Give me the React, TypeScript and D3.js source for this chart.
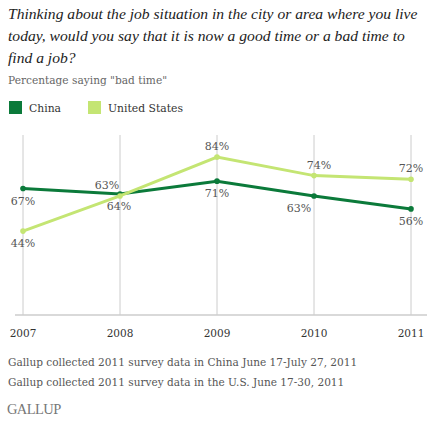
import * as React from 'react'
import * as d3 from 'd3'

// survey years and "bad time" percentages
const years = ['2007', '2008', '2009', '2010', '2011']
const china = [67, 64, 71, 63, 56]
const unitedStates = [44, 63, 84, 74, 72]

const titleLines = [
    'Thinking about the job situation in the city or area where you live',
    'today, would you say that it is now a good time or a bad time to',
    'find a job?',
]
const subtitle = 'Percentage saying "bad time"'
const notes = [
    'Gallup collected 2011 survey data in China June 17-July 27, 2011',
    'Gallup collected 2011 survey data in the U.S. June 17-30, 2011',
]

// label placement: 1 = above the point, -1 = below; dx nudges sideways
const chinaLabelPos = [[-1, 0], [-1, -1], [-1, 0], [-1, -15], [-1, 0]]
const usLabelPos = [[-1, 0], [1, -13], [1, 0], [1, 5], [1, 0]]

const W = 434
const H = 424
const serif = '"DejaVu Serif", "Liberation Serif", serif'
const titleFont = '"Liberation Serif", "DejaVu Serif", serif'
const dark = '#0b7a3a'
const light = '#c4e573'

const App = () => {
    const x = d3.scalePoint().domain(years).range([23, 411])
    const y = d3.scaleLinear().domain([0, 100]).range([312.5, 127.5])

    const line = d3.line<number>()
        .x((d, i) => x(years[i]))
        .y(d => y(d))

    const series = [
        {name: 'China', values: china, color: dark, pos: chinaLabelPos},
        {name: 'United States', values: unitedStates, color: light, pos: usLabelPos},
    ]

    return (
        <svg width={W} height={H} style={{position: 'absolute', left: 0, top: 0, background: '#fff'}}>
            {titleLines.map((t, i) => (
                <text key={i} x={8} y={19 + i * 22} fontFamily={titleFont} fontStyle='italic'
                      fontSize={15.6} fill='#222'>{t}</text>
            ))}
            <text x={8} y={84} fontFamily={serif} fontSize={10.6} fill='#666'>{subtitle}</text>

            {/* legend */}
            {series.map((s, i) => (
                <g key={s.name} transform={`translate(${9 + i * 79},101)`}>
                    <rect width={13} height={13} fill={s.color}/>
                    <text x={20} y={10.5} fontFamily={serif} fontSize={10.8} fill='#333'>{s.name}</text>
                </g>
            ))}

            {/* gridlines */}
            {years.map(yr => (
                <line key={yr} x1={x(yr)} x2={x(yr)} y1={135} y2={315} stroke='#ccc' strokeWidth={1}/>
            ))}
            <line x1={15} x2={427} y1={315} y2={315} stroke='#ccc' strokeWidth={1.5}/>
            {years.map(yr => (
                <text key={yr} x={x(yr)} y={337} textAnchor='middle' fontFamily={serif}
                      fontSize={10.5} fill='#333'>{yr}</text>
            ))}

            {series.map(s => (
                <g key={s.name}>
                    <path d={line(s.values)} fill='none' stroke={s.color} strokeWidth={3}/>
                    {s.values.map((v, i) => (
                        <circle key={i} cx={x(years[i])} cy={y(v)} r={2.8} fill={s.color}/>
                    ))}
                </g>
            ))}
            {series.map(s => s.values.map((v, i) => (
                <text key={s.name + i} x={x(years[i]) + s.pos[i][1]}
                      y={y(v) + (s.pos[i][0] > 0 ? -7 : 16)} textAnchor='middle'
                      fontFamily={serif} fontSize={11} fill='#555'>{v}%</text>
            )))}

            {notes.map((n, i) => (
                <text key={i} x={8} y={366 + i * 20} fontFamily={serif} fontSize={10.55} fill='#555'>{n}</text>
            ))}
            <text x={7} y={414} fontFamily={titleFont} fontSize={14.5} fill='#777' letterSpacing={-0.6}>GALLUP</text>
        </svg>
    )
}

export default App
